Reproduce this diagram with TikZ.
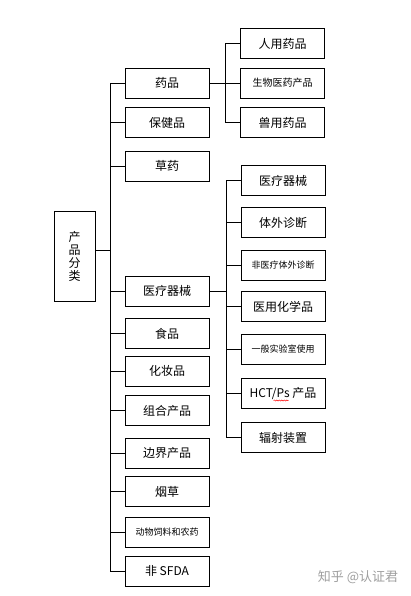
\documentclass[tikz,border=0pt]{standalone}
\usepackage{fontspec}
\usetikzlibrary{decorations.pathmorphing}
\newfontfamily\cjk{Noto Sans CJK SC}
\definecolor{marks}{rgb}{0.62,0.62,0.62}

\begin{document}
\begin{tikzpicture}[x=1pt,y=-1pt,
  box/.style={draw, line width=0.8pt, minimum width=84pt, minimum height=30pt, inner sep=0pt, font=\cjk\fontsize{12}{14}\selectfont},
  midbox/.style={box, font=\cjk\fontsize{10}{12}\selectfont},
  smallbox/.style={box, font=\cjk\fontsize{9}{11}\selectfont},
  link/.style={line width=0.8pt}]
  \useasboundingbox (0,0) rectangle (411,596);
  \node[box, minimum width=41pt, minimum height=90pt, align=center, font=\cjk\fontsize{12}{13}\selectfont] (root) at (74.5,256) {产\\品\\分\\类};
  % the middle column
  \foreach \name/\txt/\y/\sty in {yp/药品/83/box, bjp/保健品/122.5/box, cy/草药/166/box,
    ylqx/医疗器械/291/box, sp/食品/333.5/box, hzp/化妆品/371/box, zh/组合产品/410.5/box,
    bj/边界产品/453/box, yc/烟草/491.5/box, dw/动物饲料和农药/532.5/smallbox, sfda/非 SFDA/571/box}
  \node[\sty] (\name) at (167,\y) {\txt};
  % drugs
  \foreach \name/\txt/\y/\sty in {ryyp/人用药品/43.5/box, swyy/生物医药产品/83/midbox, syyp/兽用药品/122.5/box}
  \node[\sty] (\name) at (282.5,\y) {\txt};
  % devices
  \foreach \name/\txt/\y/\sty in {qx/医疗器械/180.5/box, tw/体外诊断/222.5/box, fyl/非医疗体外诊断/265/smallbox,
    hx/医用化学品/306.5/box, sys/一般实验室使用/349.5/smallbox, hct/{HCT/Ps 产品}/393.5/box, fs/辐射装置/437.5/box}
  \node[\sty] (\name) at (283,\y) {\txt};
  \coordinate (trunk) at (110,0);
  \coordinate (drugs) at (225,0);
  \coordinate (devices) at (226,0);
  \draw[link] (yp.west -| trunk) -- (sfda.west -| trunk);
  \draw[link] ([yshift=6pt]root.east) -- ([yshift=6pt]root.east -| trunk);
  \foreach \name in {yp,bjp,cy,ylqx,sp,hzp,zh,bj,yc,dw,sfda}
  \draw[link] (\name.west) -- (\name.west -| trunk);
  \draw[link] (yp.east) -- (swyy.west);
  \draw[link] (ryyp.west -| drugs) -- (syyp.west -| drugs);
  \foreach \name in {ryyp,syyp}
  \draw[link] (\name.west) -- (\name.west -| drugs);
  \draw[link] (ylqx.east) -- (ylqx.east -| devices);
  \draw[link] (qx.west -| devices) -- (fs.west -| devices);
  \foreach \name in {qx,tw,fyl,hx,sys,hct,fs}
  \draw[link] (\name.west) -- (\name.west -| devices);
  \draw[red, line width=0.5pt, decorate, decoration={snake, amplitude=0.6pt, segment length=2.5pt}]
    ([xshift=-9.5pt,yshift=-7pt]hct.center) -- ([xshift=5.5pt,yshift=-7pt]hct.center); % spell check mark
  \node[text=marks, font=\cjk\fontsize{13}{15}\selectfont] (mark) at (358,577) {知乎 @认证君};
\end{tikzpicture}
\end{document}
